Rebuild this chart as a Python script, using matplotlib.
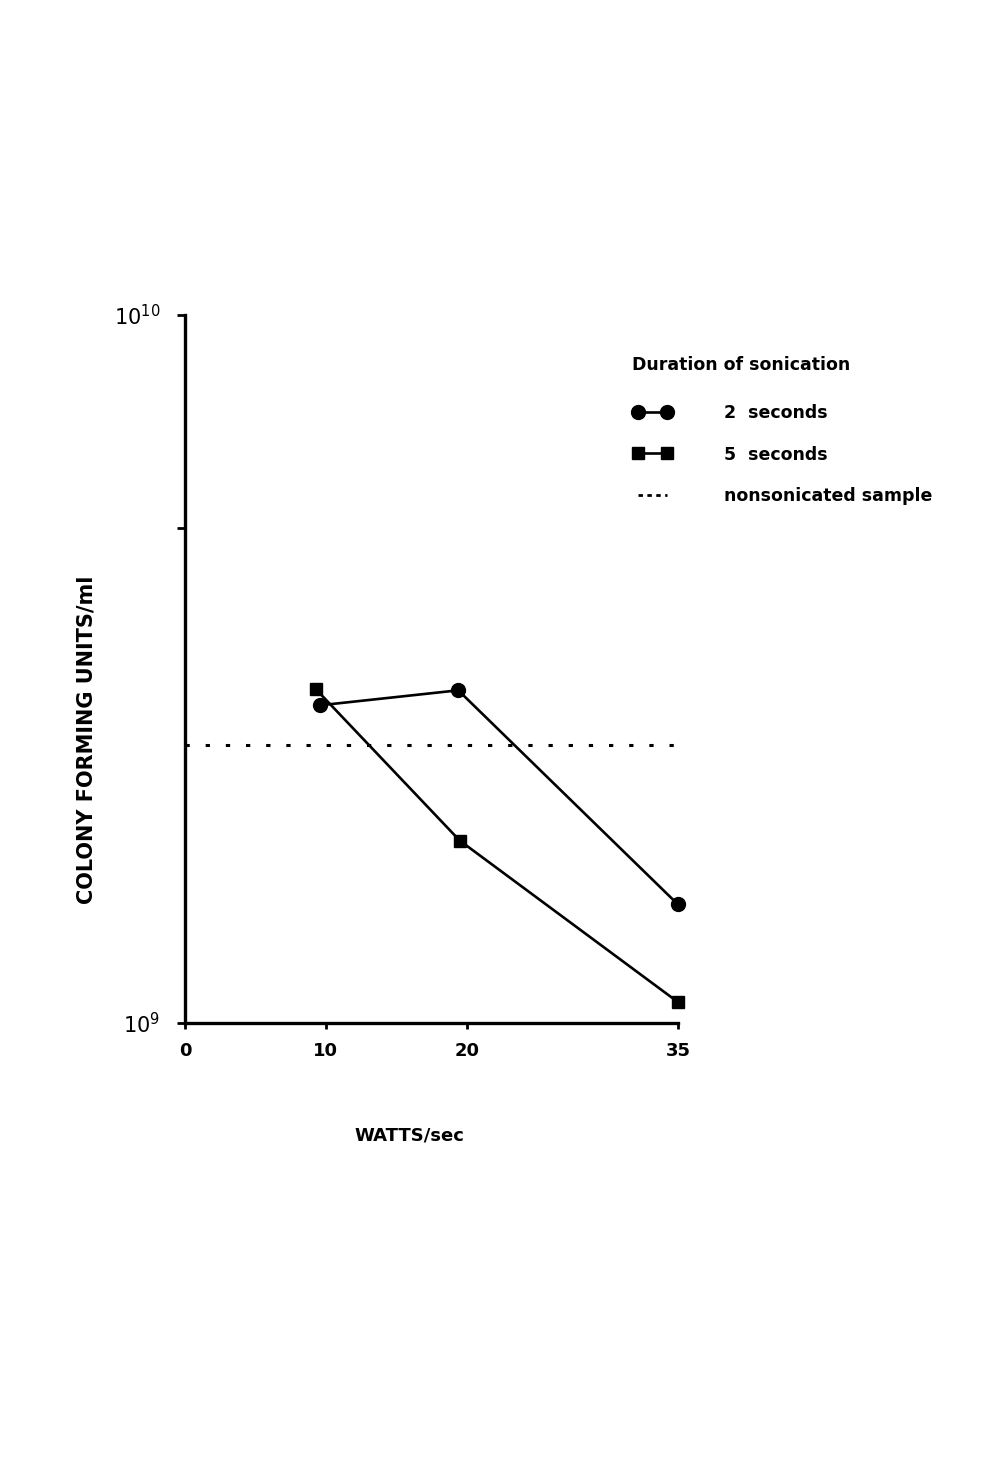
import matplotlib
matplotlib.use('Agg')
from matplotlib import pyplot as plt
from matplotlib.lines import Line2D
from matplotlib.ticker import NullLocator

# watts/sec positions as they sit on the scanned figure
watts_2s = [9.6, 19.4, 35]
cfu_2s = [2.81e9, 2.95e9, 1.47e9]

watts_5s = [9.3, 19.5, 35]
cfu_5s = [2.96e9, 1.81e9, 1.07e9]

watts_ctrl = [0, 35]
cfu_ctrl = [2.47e9, 2.47e9]

x_ticks = [0, 10, 20, 35]
y_ticks = [1e9, 5e9, 1e10]
y_tick_labels = ['$10^9$', '', '$10^{10}$']

plt.rcParams['font.family'] = ['DejaVu Sans']
plt.rcParams['mathtext.default'] = 'regular'

fig = plt.figure(figsize=(9.85, 14.63), dpi=100)
ax = fig.add_axes([0.1878, 0.3008, 0.5005, 0.4839])

ax.plot(watts_2s, cfu_2s, color='black', lw=1.9, marker='o', ms=10,
        clip_on=False, zorder=3)
ax.plot(watts_5s, cfu_5s, color='black', lw=1.9, marker='s', ms=9,
        clip_on=False, zorder=3)
ax.plot(watts_ctrl, cfu_ctrl, color='black', lw=2.2, dashes=(1.4, 5.2),
        clip_on=False)

ax.set_yscale('log')
ax.set_xlim(0, 35)
ax.set_ylim(1e9, 1e10)
ax.set_xticks(x_ticks)
ax.set_yticks(y_ticks, labels=y_tick_labels)
ax.yaxis.set_minor_locator(NullLocator())
ax.tick_params(axis='x', length=4, width=2, direction='out', pad=10,
               labelsize=13)
ax.tick_params(axis='y', length=6, width=2, direction='out', pad=12,
               labelsize=15)
for lab in ax.get_xticklabels():
    lab.set_fontweight('bold')

for side in ['top', 'right']:
    ax.spines[side].set_visible(False)
for side in ['left', 'bottom']:
    ax.spines[side].set_linewidth(2.4)

ax.set_xlabel('WATTS/sec', fontsize=13, fontweight='bold')
ax.xaxis.set_label_coords(0.455, -0.146)
ax.set_ylabel('COLONY FORMING UNITS/ml', fontsize=15, fontweight='bold')
ax.yaxis.set_label_coords(-0.18, 0.40)

handles = [
    Line2D([], [], color='black', lw=1.9, marker='o', ms=10),
    Line2D([], [], color='black', lw=1.9, marker='s', ms=9),
    Line2D([], [], color='black', lw=2, dashes=(1.6, 1.6)),
]
labels = ['2  seconds', '5  seconds', 'nonsonicated sample']
leg = ax.legend(handles, labels, title='Duration of sonication',
                loc='upper left', bbox_to_anchor=(0.642, 0.757),
                bbox_transform=fig.transFigure, frameon=False,
                numpoints=2, handlelength=2.3, handletextpad=3.0,
                labelspacing=1.35, borderpad=0, borderaxespad=0,
                alignment='left', prop={'size': 12.5, 'weight': 'bold'},
                title_fontproperties={'size': 12.5, 'weight': 'bold'})
leg._legend_box.sep = 22

fig.savefig('out.png', dpi=100)
